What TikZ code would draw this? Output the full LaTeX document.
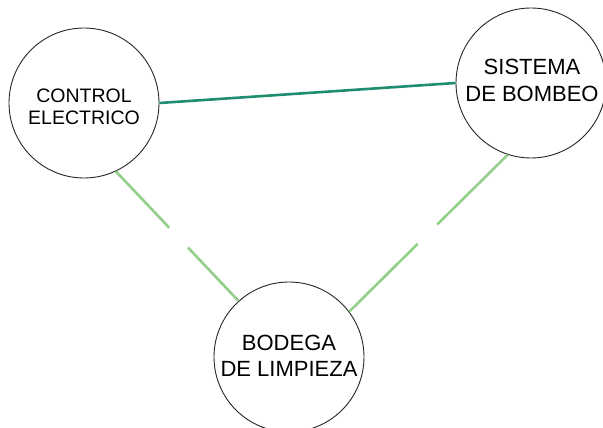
\documentclass[tikz,border=0pt]{standalone}
\usepackage{fontspec}
\setmainfont{Liberation Sans}
\usetikzlibrary{calc}

\definecolor{darkgreen}{RGB}{30,140,110}
\definecolor{lightgreen}{RGB}{147,207,138}

\tikzset{
  place/.style={draw=black!85, line width=0.9pt, circle, minimum size=150pt, inner sep=0pt},
  placetext/.style={align=center, inner sep=0pt},
  strong/.style={draw=darkgreen, line width=2.6pt},
  weak/.style={draw=lightgreen, line width=2.6pt},
}

\begin{document}
\begin{tikzpicture}[x=1pt,y=-1pt]
   \useasboundingbox (0,0) rectangle (603,428);

   \node[place] (control) at (84,103) {};
   \node[placetext, font=\fontsize{19.5}{22}\selectfont] (controltext) at (84,106.5) {CONTROL\\ELECTRICO};

   \node[place] (bombeo) at (531,83) {};
   \node[placetext, font=\fontsize{22}{27}\selectfont] (bombeotext) at (532,80.5) {SISTEMA\\DE BOMBEO};

   \node[place] (bodega) at (289,357) {};
   \node[placetext, font=\fontsize{22}{26}\selectfont] (bodegatext) at (289,355.5) {BODEGA\\DE LIMPIEZA};

   \draw[strong] (control.0) -- (bombeo.180);

   \draw[weak] (control.-65) -- ($(control.-65)!0.435!(bodega.132)$);
   \draw[weak] ($(control.-65)!0.587!(bodega.132)$) -- (bodega.132);

   \draw[weak] (bombeo.-108) -- ($(bombeo.-108)!0.444!(bodega.37)$);
   \draw[weak] ($(bombeo.-108)!0.568!(bodega.37)$) -- (bodega.37);
\end{tikzpicture}
\end{document}
